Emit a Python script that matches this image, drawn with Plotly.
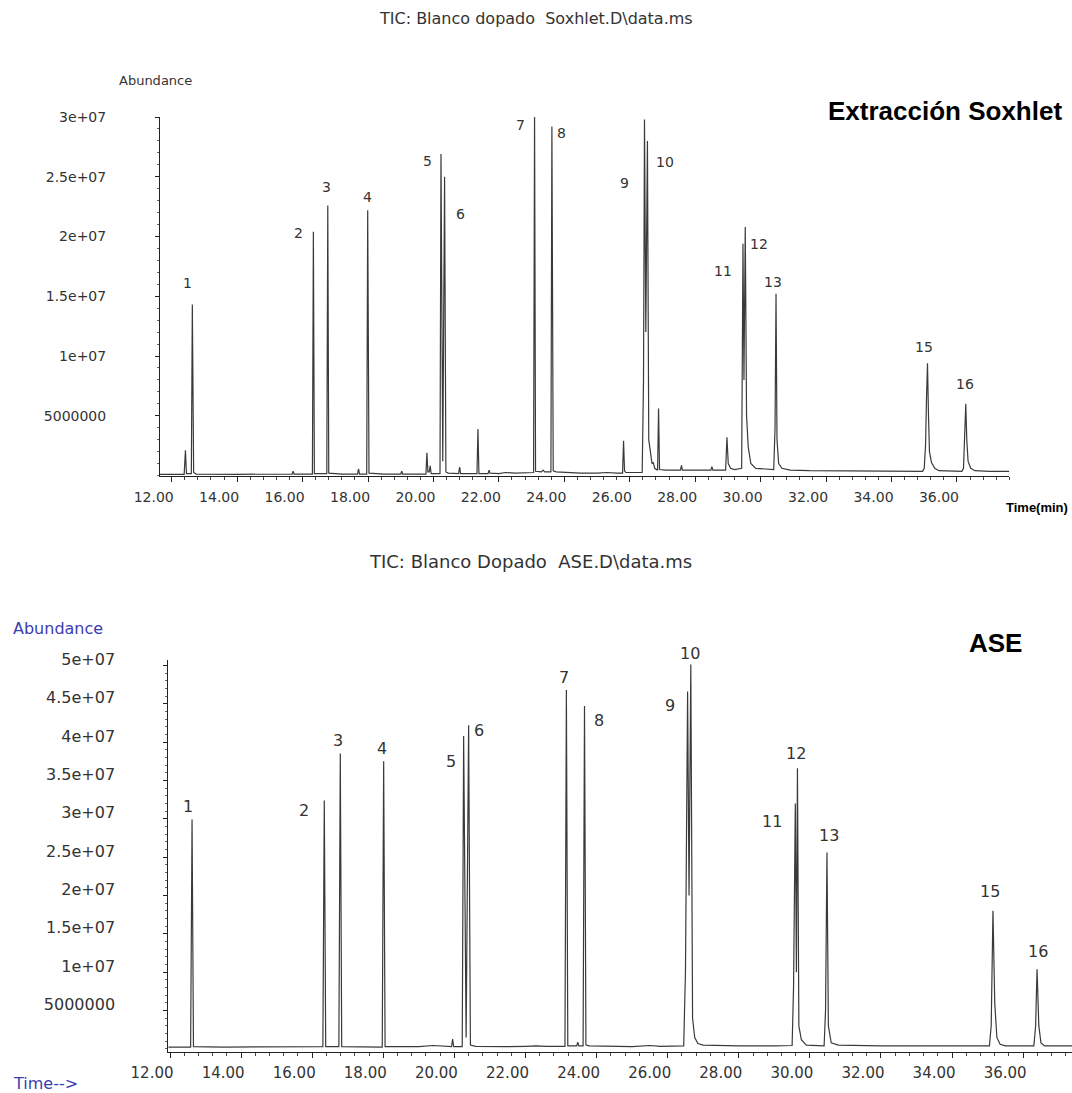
import plotly.graph_objects as go

W, H = 1072, 1093

# ---------------- DATA ----------------
# Soxhlet chromatogram (time in min, abundance)
sox_time = [11.64, 12.38, 12.42, 12.45, 12.60, 12.63, 12.67, 12.75, 14.00, 15.00,
            15.68, 15.71, 15.74, 16.30, 16.33, 16.36, 16.74, 16.77, 16.80, 17.20,
            17.68, 17.71, 17.74, 17.96, 17.99, 18.03, 18.50, 19.00, 19.03, 19.06,
            19.77, 19.80, 19.83, 19.87, 19.90, 19.93, 20.20, 20.23, 20.285, 20.34,
            20.38, 20.45, 20.77, 20.80, 20.83, 21.33, 21.36, 21.39, 21.67, 21.70,
            21.73, 22.00, 22.20, 22.50, 22.80, 23.06, 23.09, 23.12, 23.30, 23.35,
            23.40, 23.59, 23.62, 23.66, 23.75, 24.00, 24.50, 25.00, 25.30, 25.60,
            25.78, 25.81, 25.84, 25.88, 26.38, 26.42, 26.45, 26.49, 26.54, 26.58,
            26.62, 26.68, 26.72, 26.76, 26.85, 26.88, 26.91, 27.10, 27.55, 27.58,
            27.61, 28.48, 28.51, 28.54, 28.93, 28.97, 29.01, 29.08, 29.20, 29.42,
            29.46, 29.49, 29.53, 29.57, 29.62, 29.70, 29.85, 30.40, 30.44, 30.47,
            30.50, 30.55, 30.65, 30.90, 31.50, 32.50, 33.50, 34.50, 34.95, 35.00,
            35.04, 35.07, 35.10, 35.13, 35.16, 35.22, 35.32, 35.45, 36.15, 36.20,
            36.24, 36.27, 36.30, 36.34, 36.42, 36.55, 37.00, 37.60]
sox_abund = [0.10e6, 0.10e6, 2.1e6, 0.15e6, 0.15e6, 14.3e6, 0.25e6, 0.12e6, 0.10e6, 0.12e6,
             0.12e6, 0.35e6, 0.12e6, 0.12e6, 20.4e6, 0.15e6, 0.15e6, 22.6e6, 0.2e6, 0.12e6,
             0.12e6, 0.55e6, 0.12e6, 0.12e6, 22.2e6, 0.2e6, 0.12e6, 0.12e6, 0.35e6, 0.12e6,
             0.12e6, 1.9e6, 0.3e6, 0.3e6, 0.8e6, 0.15e6, 0.15e6, 26.9e6, 1.2e6, 25.0e6,
             0.3e6, 0.2e6, 0.15e6, 0.7e6, 0.15e6, 0.15e6, 3.9e6, 0.15e6, 0.15e6, 0.45e6,
             0.2e6, 0.15e6, 0.25e6, 0.2e6, 0.25e6, 0.25e6, 30.3e6, 0.35e6, 0.3e6, 0.45e6,
             0.3e6, 0.3e6, 29.2e6, 0.4e6, 0.3e6, 0.25e6, 0.2e6, 0.2e6, 0.25e6, 0.2e6,
             0.2e6, 2.9e6, 0.4e6, 0.25e6, 0.25e6, 8.0e6, 29.8e6, 12.0e6, 28.0e6, 3.0e6,
             2.0e6, 1.0e6, 1.1e6, 0.6e6, 0.45e6, 5.6e6, 0.5e6, 0.45e6, 0.45e6, 0.85e6,
             0.45e6, 0.45e6, 0.75e6, 0.45e6, 0.45e6, 3.2e6, 1.0e6, 0.6e6, 0.5e6, 0.6e6,
             19.4e6, 8.0e6, 20.8e6, 5.0e6, 2.4e6, 1.0e6, 0.6e6, 0.5e6, 4.0e6, 15.2e6,
             3.0e6, 1.0e6, 0.6e6, 0.45e6, 0.4e6, 0.38e6, 0.36e6, 0.35e6, 0.35e6, 0.6e6,
             2.5e6, 6.5e6, 9.4e6, 5.0e6, 2.0e6, 1.1e6, 0.6e6, 0.4e6, 0.35e6, 0.6e6,
             3.5e6, 6.0e6, 3.0e6, 1.2e6, 0.6e6, 0.4e6, 0.35e6, 0.35e6]

# ASE chromatogram
ase_time = [11.95, 12.58, 12.62, 12.66, 13.50, 15.00, 16.30, 16.34, 16.38, 16.75,
            16.79, 16.83, 17.50, 17.97, 18.01, 18.05, 19.00, 19.40, 19.92, 19.95,
            19.98, 20.22, 20.26, 20.33, 20.40, 20.45, 20.60, 21.00, 21.50, 22.00,
            22.30, 22.60, 23.11, 23.15, 23.19, 23.44, 23.47, 23.50, 23.62, 23.66,
            23.70, 23.80, 24.30, 25.00, 25.50, 25.80, 26.45, 26.50, 26.56, 26.60,
            26.65, 26.70, 26.76, 26.85, 27.00, 28.00, 29.00, 29.50, 29.54, 29.59,
            29.62, 29.65, 29.69, 29.76, 29.90, 30.40, 30.44, 30.48, 30.52, 30.60,
            30.80, 32.00, 34.00, 35.05, 35.10, 35.15, 35.20, 35.26, 35.35, 35.50,
            36.30, 36.35, 36.39, 36.44, 36.50, 36.60, 37.38]
ase_abund = [0.25e6, 0.25e6, 29.9e6, 0.3e6, 0.25e6, 0.3e6, 0.3e6, 32.4e6, 0.3e6, 0.3e6,
             38.5e6, 0.3e6, 0.25e6, 0.25e6, 37.5e6, 0.3e6, 0.3e6, 0.45e6, 0.3e6, 1.3e6,
             0.3e6, 0.3e6, 40.8e6, 1.5e6, 42.2e6, 0.5e6, 0.35e6, 0.3e6, 0.3e6, 0.35e6,
             0.4e6, 0.35e6, 0.35e6, 46.8e6, 0.4e6, 0.4e6, 0.9e6, 0.4e6, 0.4e6, 44.7e6,
             0.5e6, 0.4e6, 0.35e6, 0.3e6, 0.45e6, 0.35e6, 0.4e6, 10.0e6, 46.6e6, 20.0e6,
             50.1e6, 4.0e6, 1.5e6, 0.7e6, 0.5e6, 0.4e6, 0.4e6, 0.45e6, 8.0e6, 32.0e6,
             10.0e6, 36.6e6, 3.0e6, 1.2e6, 0.5e6, 0.4e6, 5.0e6, 25.6e6, 3.0e6, 0.8e6,
             0.5e6, 0.4e6, 0.4e6, 0.4e6, 3.0e6, 18.0e6, 6.0e6, 1.5e6, 0.6e6, 0.4e6,
             0.4e6, 3.0e6, 10.4e6, 3.0e6, 0.8e6, 0.4e6, 0.4e6]

# Peak labels (compound number, apex time, visible apex abundance)
sox_peak_ids = ["1", "2", "3", "4", "5", "6", "7", "8", "9", "10", "11", "12", "13", "15", "16"]
sox_peak_time = [12.63, 16.33, 16.77, 17.99, 20.23, 20.34, 23.09, 23.62, 26.45, 26.54,
                 29.46, 29.53, 30.47, 35.10, 36.27]
sox_peak_abund = [14.3e6, 20.4e6, 22.6e6, 22.2e6, 26.9e6, 25.0e6, 29.95e6, 29.2e6, 29.8e6, 28.0e6,
                  19.4e6, 20.8e6, 15.2e6, 9.4e6, 6.0e6]

ase_peak_ids = ["1", "2", "3", "4", "5", "6", "7", "8", "9", "10", "11", "12", "13", "15", "16"]
ase_peak_time = [12.62, 16.34, 16.79, 18.01, 20.26, 20.40, 23.15, 23.66, 26.56, 26.65,
                 29.59, 29.65, 30.48, 35.15, 36.39]
ase_peak_abund = [29.9e6, 32.4e6, 38.5e6, 37.5e6, 40.8e6, 42.2e6, 46.8e6, 44.7e6, 46.6e6, 50.1e6,
                  32.0e6, 36.6e6, 25.6e6, 18.0e6, 10.4e6]

sox_yticks = [5e6, 1e7, 1.5e7, 2e7, 2.5e7, 3e7]
sox_yticktext = ["5000000", "1e+07", "1.5e+07", "2e+07", "2.5e+07", "3e+07"]
ase_yticks = [5e6, 1e7, 1.5e7, 2e7, 2.5e7, 3e7, 3.5e7, 4e7, 4.5e7, 5e7]
ase_yticktext = ["5000000", "1e+07", "1.5e+07", "2e+07", "2.5e+07", "3e+07",
                 "3.5e+07", "4e+07", "4.5e+07", "5e+07"]

# ---------------- STYLE ----------------
TXT = "#333333"
BLUE = "#3c3cb0"
LINE = "#3a3a3a"
FONT = "DejaVu Sans"

# label offsets in px (dx right, dy up) relative to peak apex
sox_lab_dx = [-5, -15, -1, 0, -13, 16, -14, 10, -20, 18, -20, 14, -3, -4, -1]
sox_lab_dy = [22, -1, 18, 13, -7, -37, -7, -6, -64, -21, -27, -17, 12, 16, 20]
ase_lab_dx = [-4, -20, -2, -2, -13, 10, -2, 14, -18, -1, -23, -1, 2, -3, 1]
ase_lab_dy = [13, -10, 13, 13, -26, -5, 12, -14, -14, 11, -18, 15, 17, 19, 18]


def px(x, y):
    return x / W, 1 - y / H


fig = go.Figure()
fig.add_trace(go.Scatter(x=sox_time, y=sox_abund, mode="lines",
                         line=dict(color=LINE, width=1.2), xaxis="x", yaxis="y",
                         showlegend=False, hoverinfo="skip"))
fig.add_trace(go.Scatter(x=ase_time, y=ase_abund, mode="lines",
                         line=dict(color=LINE, width=1.2), xaxis="x2", yaxis="y2",
                         showlegend=False, hoverinfo="skip"))

common_x = dict(showline=True, linecolor="#222", linewidth=1, ticks="outside",
                ticklen=5, tickcolor="#222", tickwidth=1, showgrid=False, zeroline=False,
                dtick=2, tick0=0, tickformat=".2f", automargin=False,
                minor=dict(dtick=0.4, ticklen=3, ticks="outside", tickcolor="#444"))
common_y = dict(showline=True, linecolor="#222", linewidth=1, ticks="outside",
                ticklen=4, tickcolor="#222", showgrid=False, zeroline=False, automargin=False,
                minor=dict(dtick=1e6, ticklen=2, ticks="outside", tickcolor="#666"))

fig.update_layout(
    template="none",
    width=W, height=H, margin=dict(l=0, r=0, t=0, b=0, pad=0, autoexpand=False),
    paper_bgcolor="white", plot_bgcolor="white",
    xaxis=dict(common_x, domain=[160 / W, 1009.3 / W], range=[11.642, 37.60], anchor="y",
               tickfont=dict(family=FONT, size=14, color=TXT),
               ticklabelshift=-18, ticklabelstandoff=4),
    yaxis=dict(common_y, domain=[1 - 475.5 / H, 1 - 117 / H], range=[0, 3.0e7], anchor="x",
               tickvals=sox_yticks, ticktext=sox_yticktext,
               tickfont=dict(family=FONT, size=14, color=TXT), ticklabelstandoff=46),
    xaxis2=dict(common_x, domain=[168.3 / W, 1.0], range=[11.952, 37.373], anchor="y2",
                tickfont=dict(family=FONT, size=15, color=TXT),
                ticklabelshift=-18, ticklabelstandoff=2),
    yaxis2=dict(common_y, domain=[1 - 1051.5 / H, 1 - 660 / H], range=[-0.33e6, 5.07e7],
                anchor="x2", tickvals=ase_yticks, ticktext=ase_yticktext,
                tickfont=dict(family=FONT, size=16, color=TXT), ticklabelstandoff=45,
                ticklabelshift=-6),
)

ann = []
# peak labels
for pid, t, a, dx, dy in zip(sox_peak_ids, sox_peak_time, sox_peak_abund, sox_lab_dx, sox_lab_dy):
    ann.append(dict(x=t, y=a, xref="x", yref="y", text=pid, showarrow=False,
                    xshift=dx, yshift=dy, font=dict(family=FONT, size=14, color=TXT)))
for pid, t, a, dx, dy in zip(ase_peak_ids, ase_peak_time, ase_peak_abund, ase_lab_dx, ase_lab_dy):
    ann.append(dict(x=t, y=a, xref="x2", yref="y2", text=pid, showarrow=False,
                    xshift=dx, yshift=dy, font=dict(family=FONT, size=16, color=TXT)))


def text(x, y, s, size, color=TXT, family=FONT, xanchor="center", bold=False):
    px_, py_ = px(x, y)
    if bold:
        s = "<b>" + s + "</b>"
    ann.append(dict(x=px_, y=py_, xref="paper", yref="paper", text=s, showarrow=False,
                    xanchor=xanchor, yanchor="middle",
                    font=dict(family=family, size=size, color=color)))


text(536, 18, "TIC: Blanco dopado  Soxhlet.D\\data.ms", 16)
text(117, 80, "Abundance", 13, xanchor="left")
text(1064, 111, "Extracción Soxhlet", 26, color="black", family="Liberation Sans",
     xanchor="right", bold=True)
text(1070, 507, "Time(min)", 13, color="black", family="Liberation Sans",
     xanchor="right", bold=True)

text(530, 561, "TIC: Blanco Dopado  ASE.D\\data.ms", 18)
text(11, 628, "Abundance", 16, color=BLUE, xanchor="left")
text(1024, 643, "ASE", 26, color="black", family="Liberation Sans", xanchor="right", bold=True)
text(11, 1083, "Time-->", 16, color=BLUE, xanchor="left")

fig.update_layout(annotations=ann)
fig.write_html("out.html", config={"displayModeBar": False},
               post_script="document.body.style.margin='0px';")
